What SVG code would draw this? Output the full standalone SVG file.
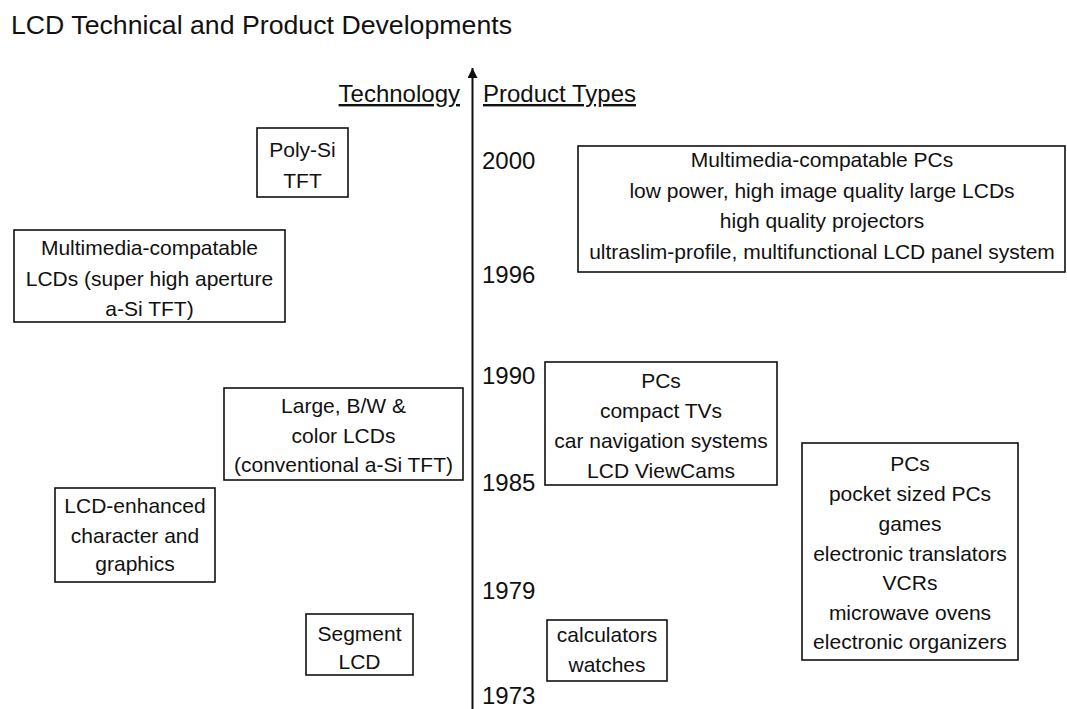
<svg xmlns="http://www.w3.org/2000/svg" width="1067" height="709" viewBox="0 0 1067 709">
  <style>
    text { font-family: "Liberation Sans", Arial, sans-serif; fill: #111; }
    .title { font-size: 26px; }
    .hdr { font-size: 24px; text-decoration: underline; }
    .yr { font-size: 24px; }
    .box rect { fill: #fff; stroke: #111; stroke-width: 1.6; }
    .box text { font-size: 21px; text-anchor: middle; }
    .axis { stroke: #111; stroke-width: 2; fill: none; }
  </style>
  <defs>
    <marker id="arr" markerWidth="12" markerHeight="10" refX="10" refY="5" orient="auto" markerUnits="userSpaceOnUse">
      <path d="M0,0 L10,5 L0,10 Z" fill="#111"/>
    </marker>
  </defs>
  <rect width="1067" height="709" fill="#fff"/>

  <text class="title" x="11" y="33.5" textLength="501" lengthAdjust="spacingAndGlyphs">LCD Technical and Product Developments</text>

  <g id="connectors">
    <line class="axis" x1="472.5" y1="709" x2="472.5" y2="68" marker-end="url(#arr)"/>
  </g>

  <g id="headers">
    <text class="hdr" x="460" y="102" text-anchor="end">Technology</text>
    <text class="hdr" x="483" y="102">Product Types</text>
  </g>

  <g id="years" class="yr-group">
    <text class="yr" x="482" y="169">2000</text>
    <text class="yr" x="482" y="283">1996</text>
    <text class="yr" x="482" y="384">1990</text>
    <text class="yr" x="482" y="491">1985</text>
    <text class="yr" x="482" y="599">1979</text>
    <text class="yr" x="482" y="704">1973</text>
  </g>

  <g id="tech-polysi" class="box">
    <rect x="257" y="128" width="91" height="69"/>
    <text x="302.5" y="157">Poly-Si</text>
    <text x="302.5" y="188">TFT</text>
  </g>

  <g id="tech-multimedia" class="box">
    <rect x="14" y="230" width="271" height="92"/>
    <text x="149.5" y="255">Multimedia-compatable</text>
    <text x="149.5" y="285.5">LCDs (super high aperture</text>
    <text x="149.5" y="315.5">a-Si TFT)</text>
  </g>

  <g id="tech-large" class="box">
    <rect x="224" y="388" width="239" height="92"/>
    <text x="343.5" y="413">Large, B/W &amp;</text>
    <text x="343.5" y="442.5">color LCDs</text>
    <text x="343.5" y="472">(conventional a-Si TFT)</text>
  </g>

  <g id="tech-enhanced" class="box">
    <rect x="55" y="488" width="160" height="94"/>
    <text x="135" y="513">LCD-enhanced</text>
    <text x="135" y="542.5">character and</text>
    <text x="135" y="571">graphics</text>
  </g>

  <g id="tech-segment" class="box">
    <rect x="306" y="614" width="107" height="61"/>
    <text x="359.5" y="641">Segment</text>
    <text x="359.5" y="669">LCD</text>
  </g>

  <g id="prod-2000" class="box">
    <rect x="578" y="146" width="487" height="126"/>
    <text x="822" y="167">Multimedia-compatable PCs</text>
    <text x="822" y="197.5">low power, high image quality large LCDs</text>
    <text x="822" y="228">high quality projectors</text>
    <text x="822" y="258.5">ultraslim-profile, multifunctional LCD panel system</text>
  </g>

  <g id="prod-1990" class="box">
    <rect x="545" y="362" width="232" height="123"/>
    <text x="661" y="388">PCs</text>
    <text x="661" y="418">compact TVs</text>
    <text x="661" y="448">car navigation systems</text>
    <text x="661" y="478">LCD ViewCams</text>
  </g>

  <g id="prod-1980s" class="box">
    <rect x="802" y="443" width="216" height="217"/>
    <text x="910" y="471">PCs</text>
    <text x="910" y="501">pocket sized PCs</text>
    <text x="910" y="531">games</text>
    <text x="910" y="560.5">electronic translators</text>
    <text x="910" y="590">VCRs</text>
    <text x="910" y="619.5">microwave ovens</text>
    <text x="910" y="649">electronic organizers</text>
  </g>

  <g id="prod-1973" class="box">
    <rect x="547" y="620" width="120" height="61"/>
    <text x="607" y="642">calculators</text>
    <text x="607" y="672">watches</text>
  </g>
</svg>
